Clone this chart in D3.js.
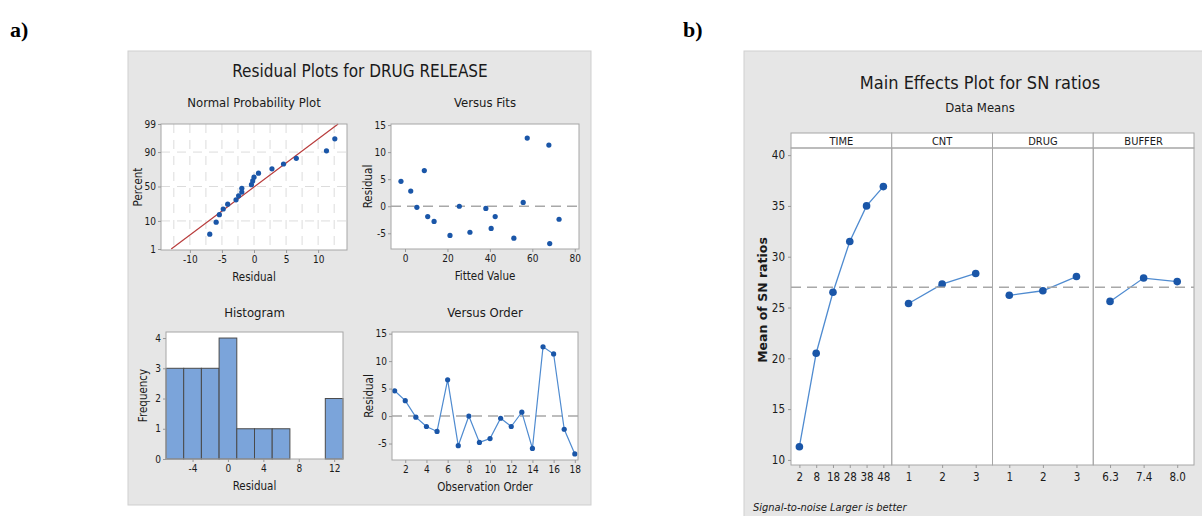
<!DOCTYPE html>
<html>
<head>
  <meta charset="utf-8">
  <script src="https://d3js.org/d3.v7.min.js"></script>
  <style>
    body { margin: 0; background: #fff; }
    svg text { font-family: "Liberation Sans Narrow", "DejaVu Sans Condensed", Arial, sans-serif; fill: #1a1a1a; }
    .tick line { stroke: #999; }
    .tick text { font-size: 10px; }
    .panelLabel { font-family: "Liberation Serif", "Times New Roman", serif !important; font-weight: bold; font-size: 22px; fill: #000 !important; }
  </style>
</head>
<body>
  <div id="chart"></div>
  <script>
    var width = 1202, height = 516;
    var svg = d3.select("#chart").append("svg")
      .attr("width", width)
      .attr("height", height);

    /*
    DATA
    */
    // residuals in observation order (Versus Order plot)
    var obsOrder = [1, 2, 3, 4, 5, 6, 7, 8, 9, 10, 11, 12, 13, 14, 15, 16, 17, 18];
    var residuals = [4.6, 2.8, -0.2, -1.9, -2.8, 6.6, -5.4, 0.0, -4.8, -4.1, -0.4, -1.9, 0.7, -5.9, 12.6, 11.3, -2.4, -6.9];
    // fitted values matching each observation (Versus Fits plot)
    var fitted = [-1.9, 2.7, 5.6, 10.7, 13.7, 9.1, 21.2, 25.6, 30.6, 40.6, 38.1, 42.5, 55.7, 51.3, 57.6, 67.8, 72.6, 68.2];
    // histogram
    var binEdges = [-7, -5, -3, -1, 1, 3, 5, 7, 9, 11, 13];
    var binCounts = [3, 3, 3, 4, 1, 1, 1, 0, 0, 2];

    // main effects plot for SN ratios
    var factors = ["TIME", "CNT", "DRUG", "BUFFER"];
    var levels = {
      TIME: ["2", "8", "18", "28", "38", "48"],
      CNT: ["1", "2", "3"],
      DRUG: ["1", "2", "3"],
      BUFFER: ["6.3", "7.4", "8.0"]
    };
    var snMeans = {
      TIME: [11.3, 20.5, 26.5, 31.5, 35.0, 36.9],
      CNT: [25.4, 27.3, 28.35],
      DRUG: [26.2, 26.65, 28.05],
      BUFFER: [25.6, 27.9, 27.55]
    };
    var grandMean = 27.0;

    var dotBlue = "#1a56a8";
    var lineBlue = "#4f8bd0";
    var frameGray = "#a6a6a6";

    // plain hyphen minus, like the original software
    var fmt = d3.formatLocale({decimal: ".", thousands: ",", grouping: [3], currency: ["", ""], minus: "-"}).format("");

    // inverse normal cdf (Acklam's approximation)
    function probit(p) {
      var a = [-3.969683028665376e+01, 2.209460984245205e+02, -2.759285104469687e+02, 1.383577518672690e+02, -3.066479806614716e+01, 2.506628277459239e+00];
      var b = [-5.447609879822406e+01, 1.615858368580409e+02, -1.556989798598866e+02, 6.680131188771972e+01, -1.328068155288572e+01];
      var c = [-7.784894002430293e-03, -3.223964580411365e-01, -2.400758277161838e+00, -2.549671010115819e+00, 4.374664141464968e+00, 2.938163982698783e+00];
      var d = [7.784695709041462e-03, 3.224671290700398e-01, 2.445134137142996e+00, 3.754408661907416e+00];
      var q, r;
      if (p < 0.02425) {
        q = Math.sqrt(-2 * Math.log(p));
        return (((((c[0]*q+c[1])*q+c[2])*q+c[3])*q+c[4])*q+c[5]) / ((((d[0]*q+d[1])*q+d[2])*q+d[3])*q+1);
      } else if (p > 1 - 0.02425) {
        q = Math.sqrt(-2 * Math.log(1 - p));
        return -(((((c[0]*q+c[1])*q+c[2])*q+c[3])*q+c[4])*q+c[5]) / ((((d[0]*q+d[1])*q+d[2])*q+d[3])*q+1);
      }
      q = p - 0.5; r = q * q;
      return (((((a[0]*r+a[1])*r+a[2])*r+a[3])*r+a[4])*r+a[5])*q / (((((b[0]*r+b[1])*r+b[2])*r+b[3])*r+b[4])*r+1);
    }

    /*
    PANEL LABELS
    */
    svg.append("text").attr("class", "panelLabel").attr("x", 10).attr("y", 37).text("a)");
    svg.append("text").attr("class", "panelLabel").attr("x", 683).attr("y", 37).text("b)");

    /*
    PANEL A : RESIDUAL PLOTS
    */
    var ga = svg.append("g");
    ga.append("rect").attr("x", 128).attr("y", 51).attr("width", 463).attr("height", 454)
      .attr("fill", "#e6e6e6").attr("stroke", "#cfcfcf");
    ga.append("text").attr("x", 360).attr("y", 77).attr("text-anchor", "middle")
      .style("font-size", "17px").text("Residual Plots for DRUG RELEASE");

    // helper to make a small plot frame
    function frame(g, box, title, xt, yt, titleY) {
      g.append("rect").attr("x", box.x0).attr("y", box.y0)
        .attr("width", box.x1 - box.x0).attr("height", box.y1 - box.y0)
        .attr("fill", "#fff");
      var cx = (box.x0 + box.x1) / 2;
      g.append("text").attr("x", cx).attr("y", titleY).attr("text-anchor", "middle")
        .style("font-size", "13px").text(title);
      g.append("text").attr("x", cx).attr("y", box.y1 + 31).attr("text-anchor", "middle")
        .style("font-size", "11.5px").text(xt);
      g.append("text").attr("transform", "rotate(-90)")
        .attr("x", -(box.y0 + box.y1) / 2).attr("y", box.x0 - 19)
        .attr("text-anchor", "middle").style("font-size", "11.5px").text(yt);
    }
    function border(g, box) {
      g.append("rect").attr("x", box.x0).attr("y", box.y0)
        .attr("width", box.x1 - box.x0).attr("height", box.y1 - box.y0)
        .attr("fill", "none").attr("stroke", frameGray);
    }
    function axes(g, box, xs, ys, xTicks, yTicks) {
      var xa = g.append("g").attr("transform", "translate(0," + box.y1 + ")")
        .call(d3.axisBottom(xs).tickValues(xTicks).tickSize(3).tickPadding(3).tickFormat(fmt));
      var ya = g.append("g").attr("transform", "translate(" + box.x0 + ",0)")
        .call(d3.axisLeft(ys).tickValues(yTicks).tickSize(3).tickPadding(2).tickFormat(fmt));
      xa.select(".domain").remove();
      ya.select(".domain").remove();
    }

    // --- Normal probability plot
    var bP = {x0: 161, x1: 347, y0: 124, y1: 250};
    var gP = ga.append("g");
    frame(gP, bP, "Normal Probability Plot", "Residual", "Percent", 107);
    var xP = d3.scaleLinear().domain([-14.5, 14.5]).range([bP.x0, bP.x1]);
    var yP = d3.scaleLinear().domain([probit(0.01), probit(0.99)]).range([bP.y1 - 1, bP.y0]);
    var gridX = [-12.5, -10, -7.5, -5, -2.5, 0, 2.5, 5, 7.5, 10, 12.5];
    var gridY = [10, 50, 90];
    gP.selectAll(".gx").data(gridX).enter().append("line")
      .attr("x1", d => xP(d)).attr("x2", d => xP(d)).attr("y1", bP.y0).attr("y2", bP.y1)
      .attr("stroke", "#dcdcdc").attr("stroke-dasharray", "9,7");
    gP.selectAll(".gy").data(gridY).enter().append("line")
      .attr("x1", bP.x0).attr("x2", bP.x1).attr("y1", d => yP(probit(d / 100))).attr("y2", d => yP(probit(d / 100)))
      .attr("stroke", "#dcdcdc").attr("stroke-dasharray", "9,7");
    var sorted = residuals.slice().sort(d3.ascending);
    var n = sorted.length;
    var mu = d3.mean(residuals), sd = d3.deviation(residuals);
    gP.append("line")
      .attr("x1", xP(mu + sd * probit(0.01))).attr("y1", yP(probit(0.01)))
      .attr("x2", xP(mu + sd * probit(0.99))).attr("y2", yP(probit(0.99)))
      .attr("stroke", "#b83c3c").attr("stroke-width", 1.2);
    gP.selectAll("circle").data(sorted).enter().append("circle")
      .attr("cx", d => xP(d))
      .attr("cy", (d, i) => yP(probit((i + 1 - 0.3) / (n + 0.4))))
      .attr("r", 2.6).attr("fill", dotBlue);
    border(gP, bP);
    axes(gP, bP, xP, yP, [-10, -5, 0, 5, 10], []);
    var pTicks = [1, 10, 50, 90, 99];
    var ypAxis = gP.append("g").attr("transform", "translate(" + bP.x0 + ",0)")
      .call(d3.axisLeft(yP)
        .tickValues(pTicks.map(p => probit(p / 100))).tickSize(3).tickPadding(2)
        .tickFormat((d, i) => pTicks[i]));
    ypAxis.select(".domain").remove();

    // --- Versus fits
    var bF = {x0: 391, x1: 579, y0: 124, y1: 249};
    var gF = ga.append("g");
    frame(gF, bF, "Versus Fits", "Fitted Value", "Residual", 107);
    var xF = d3.scaleLinear().domain([-6.6, 82]).range([bF.x0, bF.x1]);
    var yF = d3.scaleLinear().domain([-7.9, 15.2]).range([bF.y1, bF.y0]);
    gF.append("line").attr("x1", bF.x0).attr("x2", bF.x1).attr("y1", yF(0)).attr("y2", yF(0))
      .attr("stroke", "#a8a8a8").attr("stroke-width", 1.5).attr("stroke-dasharray", "10,6");
    gF.selectAll("circle").data(fitted).enter().append("circle")
      .attr("cx", d => xF(d)).attr("cy", (d, i) => yF(residuals[i]))
      .attr("r", 2.6).attr("fill", dotBlue);
    border(gF, bF);
    axes(gF, bF, xF, yF, [0, 20, 40, 60, 80], [-5, 0, 5, 10, 15]);

    // --- Histogram
    var bH = {x0: 166, x1: 343, y0: 332, y1: 459};
    var gH = ga.append("g");
    frame(gH, bH, "Histogram", "Residual", "Frequency", 317);
    var xH = d3.scaleLinear().domain([-7, 13]).range([bH.x0, bH.x1]);
    var yH = d3.scaleLinear().domain([0, 4.2]).range([bH.y1, bH.y0]);
    gH.selectAll("rect.bar").data(binCounts).enter().append("rect")
      .attr("class", "bar")
      .attr("x", (d, i) => xH(binEdges[i]))
      .attr("width", (d, i) => xH(binEdges[i + 1]) - xH(binEdges[i]))
      .attr("y", d => yH(d))
      .attr("height", d => yH(0) - yH(d))
      .attr("fill", "#7ba4da").attr("stroke", "#4a4a4a").attr("stroke-width", d => d > 0 ? 1 : 0);
    border(gH, bH);
    axes(gH, bH, xH, yH, [-4, 0, 4, 8, 12], [0, 1, 2, 3, 4]);

    // --- Versus order
    var bO = {x0: 392, x1: 578, y0: 332, y1: 460};
    var gO = ga.append("g");
    frame(gO, bO, "Versus Order", "Observation Order", "Residual", 317);
    var xO = d3.scaleLinear().domain([0.75, 18.3]).range([bO.x0, bO.x1]);
    var yO = d3.scaleLinear().domain([-8.0, 15.3]).range([bO.y1, bO.y0]);
    gO.append("line").attr("x1", bO.x0).attr("x2", bO.x1).attr("y1", yO(0)).attr("y2", yO(0))
      .attr("stroke", "#a8a8a8").attr("stroke-width", 1.5).attr("stroke-dasharray", "10,6");
    gO.append("path").datum(residuals)
      .attr("d", d3.line().x((d, i) => xO(obsOrder[i])).y(d => yO(d)))
      .attr("fill", "none").attr("stroke", lineBlue).attr("stroke-width", 1.2);
    gO.selectAll("circle").data(residuals).enter().append("circle")
      .attr("cx", (d, i) => xO(obsOrder[i])).attr("cy", d => yO(d))
      .attr("r", 2.6).attr("fill", dotBlue);
    border(gO, bO);
    axes(gO, bO, xO, yO, [2, 4, 6, 8, 10, 12, 14, 16, 18], [-5, 0, 5, 10, 15]);

    /*
    PANEL B : MAIN EFFECTS PLOT
    */
    var gb = svg.append("g");
    gb.append("rect").attr("x", 744).attr("y", 51).attr("width", 470).attr("height", 470)
      .attr("fill", "#e6e6e6").attr("stroke", "#cfcfcf");
    gb.append("text").attr("x", 980).attr("y", 89).attr("text-anchor", "middle")
      .style("font-size", "18px").text("Main Effects Plot for SN ratios");
    gb.append("text").attr("x", 980).attr("y", 112).attr("text-anchor", "middle")
      .style("font-size", "13px").text("Data Means");

    var mLeft = 791, mRight = 1194, mTop = 148, mBottom = 465, stripTop = 133;
    var xPanel = d3.scaleBand().domain(factors).range([mLeft, mRight]);
    var yM = d3.scaleLinear().domain([9.5, 40.7]).range([mBottom, mTop]);

    gb.append("rect").attr("x", mLeft).attr("y", stripTop).attr("width", mRight - mLeft).attr("height", mBottom - stripTop)
      .attr("fill", "#fff");

    factors.forEach(function(f) {
      var x0 = xPanel(f), w = xPanel.bandwidth();
      var xs = d3.scalePoint().domain(levels[f]).range([x0, x0 + w]).padding(0.5);
      var g = gb.append("g");
      g.append("rect").attr("x", x0).attr("y", stripTop).attr("width", w).attr("height", mTop - stripTop)
        .attr("fill", "#fff").attr("stroke", frameGray);
      g.append("text").attr("x", x0 + w / 2).attr("y", mTop - 3).attr("text-anchor", "middle")
        .style("font-size", "11px").text(f);
      g.append("rect").attr("x", x0).attr("y", mTop).attr("width", w).attr("height", mBottom - mTop)
        .attr("fill", "none").attr("stroke", frameGray);
      var xa = g.append("g").attr("transform", "translate(0," + mBottom + ")")
        .call(d3.axisBottom(xs).tickSize(3).tickPadding(5));
      xa.select(".domain").remove();
      xa.selectAll("text").style("font-size", "11.5px");
      g.append("path").datum(snMeans[f])
        .attr("d", d3.line().x((d, i) => xs(levels[f][i])).y(d => yM(d)))
        .attr("fill", "none").attr("stroke", lineBlue).attr("stroke-width", 1.3);
      g.selectAll("circle").data(snMeans[f]).enter().append("circle")
        .attr("cx", (d, i) => xs(levels[f][i])).attr("cy", d => yM(d))
        .attr("r", 3.8).attr("fill", dotBlue);
    });

    gb.append("line").attr("x1", mLeft).attr("x2", mRight).attr("y1", yM(grandMean)).attr("y2", yM(grandMean))
      .attr("stroke", "#a8a8a8").attr("stroke-width", 1.6).attr("stroke-dasharray", "10,6");

    var yAxisB = gb.append("g").attr("transform", "translate(" + mLeft + ",0)")
      .call(d3.axisLeft(yM).tickValues([10, 15, 20, 25, 30, 35, 40]).tickSize(3).tickPadding(3));
    yAxisB.select(".domain").remove();
    yAxisB.selectAll("text").style("font-size", "11.5px");

    gb.append("text").attr("transform", "rotate(-90)")
      .attr("x", -300).attr("y", 767).attr("text-anchor", "middle")
      .style("font-family", "'DejaVu Sans', Arial, sans-serif").style("font-weight", "bold").style("font-size", "12.5px")
      .text("Mean of SN ratios");
    gb.append("text").attr("x", 753).attr("y", 511)
      .style("font-style", "italic").style("font-size", "11px")
      .text("Signal-to-noise Larger is better");
  </script>
</body>
</html>
